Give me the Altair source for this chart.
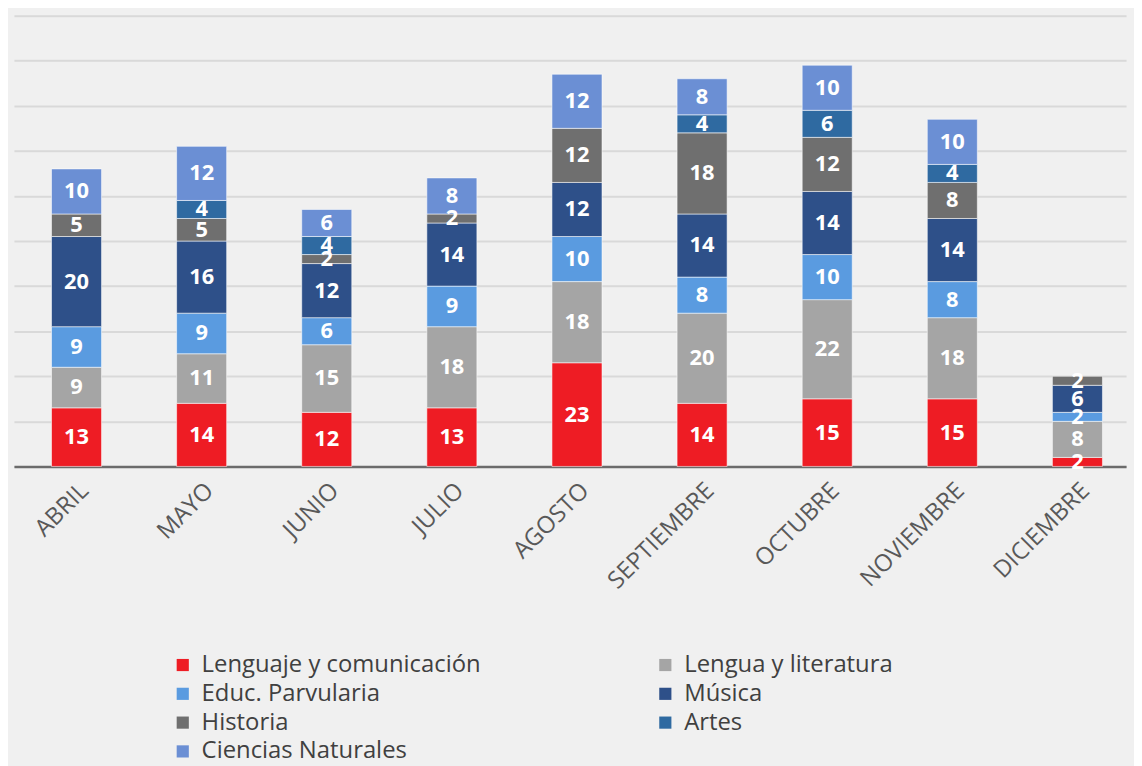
import altair as alt
import pandas as pd

meses = ["ABRIL", "MAYO", "JUNIO", "JULIO", "AGOSTO", "SEPTIEMBRE", "OCTUBRE", "NOVIEMBRE", "DICIEMBRE"]

asignaturas = ["Lenguaje y comunicación", "Lengua y literatura", "Educ. Parvularia", "Música",
               "Historia", "Artes", "Ciencias Naturales"]
colores = ["#ee1c24", "#a5a5a5", "#5a9be0", "#2e5089", "#6f6f6f", "#2f6aa1", "#6b8fd4"]

# legend is filled column by column: this order gives the reference's row-by-row reading
orden_leyenda = ["Lenguaje y comunicación", "Educ. Parvularia", "Historia", "Ciencias Naturales",
                 "Lengua y literatura", "Música", "Artes"]

lenguaje_comunicacion = [13, 14, 12, 13, 23, 14, 15, 15, 2]
lengua_literatura = [9, 11, 15, 18, 18, 20, 22, 18, 8]
educ_parvularia = [9, 9, 6, 9, 10, 8, 10, 8, 2]
musica = [20, 16, 12, 14, 12, 14, 14, 14, 6]
historia = [5, 5, 2, 2, 12, 18, 12, 8, 2]
artes = [0, 4, 4, 0, 0, 4, 6, 4, 0]
ciencias_naturales = [10, 12, 6, 8, 12, 8, 10, 10, 0]

series = [lenguaje_comunicacion, lengua_literatura, educ_parvularia, musica,
          historia, artes, ciencias_naturales]

rows = []
for k, (name, vals) in enumerate(zip(asignaturas, series)):
    for mes, v in zip(meses, vals):
        if v > 0:
            rows.append({"mes": mes, "asignatura": name, "orden": k, "valor": v})
df = pd.DataFrame(rows)

color_de = dict(zip(asignaturas, colores))
rango_leyenda = [color_de[a] for a in orden_leyenda]

base = alt.Chart(df).transform_stack(
    stack="valor", groupby=["mes"], as_=["y0", "y1"],
    sort=[alt.SortField("orden", order="ascending")]
).transform_calculate(ymid="(datum.y0 + datum.y1) / 2")

x_enc = alt.X("mes:N", sort=meses, title=None,
              scale=alt.Scale(paddingInner=0.6, paddingOuter=0.2444, align=0.614),
              axis=alt.Axis(labelAngle=-45, labelFontSize=24, labelColor="#595959",
                            labelPadding=12, ticks=False, domainColor="#6b6b6b",
                            domainWidth=2.5, grid=False))

bars = base.mark_bar(stroke="#ffffff", strokeWidth=1, strokeOpacity=0.55).encode(
    x=x_enc,
    y=alt.Y("y0:Q", title=None, scale=alt.Scale(domain=[0, 100], nice=False),
            axis=alt.Axis(values=list(range(0, 101, 10)), labels=False, ticks=False,
                          domain=False, grid=True, gridColor="#d9d9d9", gridWidth=2)),
    y2="y1:Q",
    color=alt.Color("asignatura:N",
                    scale=alt.Scale(domain=orden_leyenda, range=rango_leyenda),
                    legend=alt.Legend(title=None, orient="none", legendX=158, legendY=642,
                                      columns=2, columnPadding=173, rowPadding=5,
                                      symbolType="square", symbolSize=150,
                                      symbolStrokeWidth=0, labelFontSize=24,
                                      labelColor="#404040", labelOffset=7, padding=0,
                                      labelLimit=400)),
)

labels = base.mark_text(color="white", fontWeight="bold", fontSize=22,
                        baseline="middle", align="center").encode(
    x=alt.X("mes:N", sort=meses),
    y=alt.Y("ymid:Q"),
    text=alt.Text("valor:Q"),
)

chart = alt.layer(bars, labels).properties(
    width=1120, height=454,
    padding={"left": 6, "top": 5, "right": 8, "bottom": 299},
    autosize="none",
    background="#f0f0f0",
).configure(font="Open Sans").configure_view(stroke=None)

chart.save("out.html", embed_options={"renderer": "svg", "actions": False})
